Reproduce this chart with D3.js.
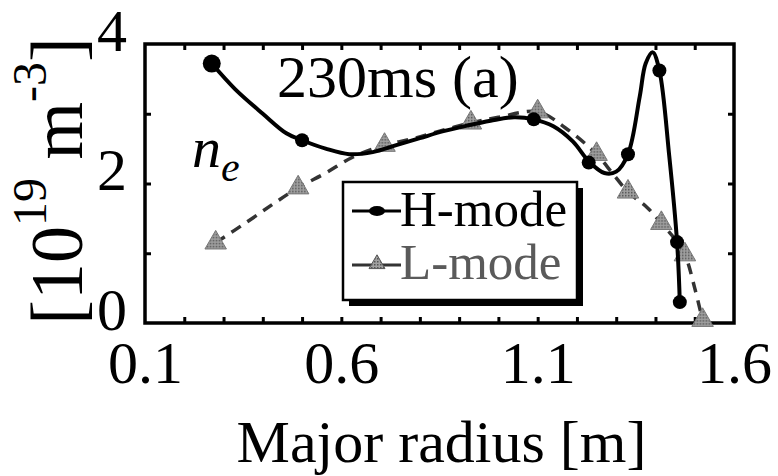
<!DOCTYPE html>
<html>
<head>
<meta charset="utf-8">
<script src="https://cdn.jsdelivr.net/npm/d3@7"></script>
<style>
  body { margin: 0; background: #fff; }
  text { font-family: 'Liberation Serif', 'Times New Roman', serif; }
</style>
</head>
<body>
<div id="chart"></div>
<script>
// H-mode profile (solid line) and its markers
const hModeX = [0.27, 0.33, 0.40, 0.46, 0.50, 0.56, 0.62, 0.68, 0.74, 0.80, 0.86, 0.92, 0.98, 1.04, 1.09, 1.14, 1.19, 1.23, 1.27, 1.30, 1.33, 1.36, 1.375, 1.393, 1.41, 1.435, 1.455, 1.462]
const hModeY = [3.72, 3.35, 3.0, 2.72, 2.62, 2.5, 2.42, 2.45, 2.55, 2.65, 2.75, 2.83, 2.9, 2.95, 2.92, 2.82, 2.6, 2.32, 2.15, 2.17, 2.42, 3.25, 3.72, 3.88, 3.62, 2.4, 1.16, 0.3]
const hMarkX = [0.27, 0.50, 1.09, 1.23, 1.33, 1.41, 1.455, 1.462]
const hMarkY = [3.72, 2.62, 2.92, 2.3, 2.42, 3.62, 1.16, 0.3]

// L-mode profile (dashed line) and its markers
const lModeX = [0.28, 0.36, 0.43, 0.49, 0.56, 0.63, 0.71, 0.78, 0.85, 0.93, 1.00, 1.10, 1.17, 1.25, 1.29, 1.33, 1.38, 1.415, 1.45, 1.475, 1.50, 1.52]
const lModeY = [1.15, 1.45, 1.72, 1.94, 2.15, 2.38, 2.55, 2.64, 2.75, 2.87, 2.95, 3.03, 2.8, 2.42, 2.15, 1.88, 1.65, 1.43, 1.2, 0.98, 0.5, 0.04]
const lMarkX = [0.28, 0.49, 0.71, 0.93, 1.10, 1.25, 1.33, 1.415, 1.475, 1.52]
const lMarkY = [1.15, 1.94, 2.55, 2.87, 3.03, 2.42, 1.88, 1.43, 0.98, 0.04]

const xTickLabels = [0.1, 0.6, 1.1, 1.6]
const yTickLabels = [0, 2, 4]

const width = 778
const height = 476
const margin = { top: 44, right: 44, bottom: 153, left: 145 }

const svg = d3
  .select('#chart')
  .append('svg')
  .attr('width', width)
  .attr('height', height)

const defs = svg.append('defs')
const pat = defs
  .append('pattern')
  .attr('id', 'hatch')
  .attr('width', 3)
  .attr('height', 3)
  .attr('patternUnits', 'userSpaceOnUse')
pat.append('rect').attr('width', 3).attr('height', 3).attr('fill', '#a0a0a0')
pat.append('rect').attr('width', 1.5).attr('height', 1.5).attr('fill', '#555')

const xScale = d3
  .scaleLinear()
  .domain([0.1, 1.6])
  .range([margin.left, width - margin.right])

const yScale = d3
  .scaleLinear()
  .domain([0, 4])
  .range([height - margin.bottom, margin.top])

const x0 = xScale.range()[0]
const x1 = xScale.range()[1]
const y0 = yScale.range()[0]
const y1 = yScale.range()[1]

// inward minor ticks on all four sides
const minorX = xScale.ticks(15).slice(1, -1)
const minorY = yScale.ticks(4).slice(1, -1)

svg.append('g')
  .attr('transform', 'translate(0,' + y0 + ')')
  .call(d3.axisBottom(xScale).tickValues(minorX).tickSize(-6).tickFormat(''))
svg.append('g')
  .attr('transform', 'translate(0,' + y1 + ')')
  .call(d3.axisTop(xScale).tickValues(minorX).tickSize(-6).tickFormat(''))
svg.append('g')
  .attr('transform', 'translate(' + x0 + ',0)')
  .call(d3.axisLeft(yScale).tickValues(minorY).tickSize(-6).tickFormat(''))
svg.append('g')
  .attr('transform', 'translate(' + x1 + ',0)')
  .call(d3.axisRight(yScale).tickValues(minorY).tickSize(-6).tickFormat(''))
svg.selectAll('.domain').remove()
svg.selectAll('.tick line').attr('stroke', '#000').attr('stroke-width', 3)

// tick labels
const xAxis = svg.append('g')
  .attr('transform', 'translate(0,' + y0 + ')')
  .call(d3.axisBottom(xScale).tickValues(xTickLabels).tickSize(0).tickPadding(17).tickFormat(d3.format('.1f')))
xAxis.select('.domain').remove()
xAxis.selectAll('text').attr('font-size', 60).attr('fill', '#000')
  .attr('font-family', "'Liberation Serif', serif")

const yAxis = svg.append('g')
  .attr('transform', 'translate(' + x0 + ',0)')
  .call(d3.axisLeft(yScale).tickValues(yTickLabels).tickSize(0).tickPadding(18).tickFormat(d3.format('d')))
yAxis.select('.domain').remove()
yAxis.selectAll('text').attr('font-size', 60).attr('fill', '#000').attr('dy', '0.1em')
  .attr('font-family', "'Liberation Serif', serif")

// frame
svg.append('rect')
  .attr('x', x0)
  .attr('y', y1)
  .attr('width', x1 - x0)
  .attr('height', y0 - y1)
  .attr('fill', 'none')
  .attr('stroke', '#000')
  .attr('stroke-width', 3.5)

// curves
const line = d3.line()
  .x(d => xScale(d[0]))
  .y(d => yScale(d[1]))
  .curve(d3.curveCatmullRom.alpha(0.5))

svg.append('path')
  .datum(lModeX.map((v, i) => [v, lModeY[i]]))
  .attr('d', line)
  .attr('fill', 'none')
  .attr('stroke', '#333')
  .attr('stroke-width', 3.5)
  .attr('stroke-dasharray', '11,8')

const triangle = d3.symbol().type(d3.symbolTriangle).size(200)

svg.selectAll('.lmark')
  .data(lMarkX.map((v, i) => [v, lMarkY[i]]))
  .enter()
  .append('path')
  .attr('class', 'lmark')
  .attr('d', triangle)
  .attr('transform', d => 'translate(' + xScale(d[0]) + ',' + yScale(d[1]) + ')')
  .attr('fill', 'url(#hatch)')
  .attr('stroke', '#777')
  .attr('stroke-width', 1)

svg.append('path')
  .datum(hModeX.map((v, i) => [v, hModeY[i]]))
  .attr('d', line)
  .attr('fill', 'none')
  .attr('stroke', '#000')
  .attr('stroke-width', 4)

svg.selectAll('.hmark')
  .data(hMarkX.map((v, i) => [v, hMarkY[i]]))
  .enter()
  .append('circle')
  .attr('class', 'hmark')
  .attr('cx', d => xScale(d[0]))
  .attr('cy', d => yScale(d[1]))
  .attr('r', (d, i) => i === 0 ? 9 : 7)
  .attr('fill', '#000')

// annotations
svg.append('text')
  .attr('x', 277)
  .attr('y', 97)
  .attr('font-size', 60)
  .text('230ms (a)')

const ne = svg.append('text')
  .attr('x', 192)
  .attr('y', 167)
  .attr('font-size', 58)
  .attr('font-style', 'italic')
  .attr('font-family', "'DejaVu Serif', serif")
ne.append('tspan').text('n')
ne.append('tspan').attr('font-size', 42).attr('dy', 14).text('e')

// legend
const lg = svg.append('g')
lg.append('rect')
  .attr('x', 349).attr('y', 188).attr('width', 234).attr('height', 118)
  .attr('fill', '#000')
lg.append('rect')
  .attr('x', 343).attr('y', 182).attr('width', 234).attr('height', 118)
  .attr('fill', '#fff').attr('stroke', '#000').attr('stroke-width', 2.5)

lg.append('line')
  .attr('x1', 352).attr('x2', 401).attr('y1', 211).attr('y2', 211)
  .attr('stroke', '#000').attr('stroke-width', 3)
lg.append('ellipse')
  .attr('cx', 377).attr('cy', 211).attr('rx', 8).attr('ry', 5)
  .attr('fill', '#000')
lg.append('text')
  .attr('x', 400).attr('y', 226)
  .attr('font-size', 51)
  .text('H-mode')

lg.append('line')
  .attr('x1', 352).attr('x2', 401).attr('y1', 265).attr('y2', 265)
  .attr('stroke', '#333').attr('stroke-width', 3)
lg.append('path')
  .attr('d', d3.symbol().type(d3.symbolTriangle).size(110))
  .attr('transform', 'translate(377,264)')
  .attr('fill', 'url(#hatch)')
  .attr('stroke', '#555')
lg.append('text')
  .attr('x', 400).attr('y', 279)
  .attr('font-size', 51)
  .attr('fill', '#5a5a5a')
  .text('L-mode')

// axis titles
svg.append('text')
  .attr('x', (x0 + x1) / 2 + 2)
  .attr('y', 462)
  .attr('text-anchor', 'middle')
  .attr('font-size', 60)
  .text('Major radius [m]')

const yTitle = svg.append('text')
  .attr('transform', 'translate(82,181) rotate(-90)')
  .attr('text-anchor', 'middle')
  .attr('font-size', 74)
yTitle.append('tspan').text('[10')
yTitle.append('tspan').attr('font-size', 48).attr('dy', -36).text('19')
yTitle.append('tspan').attr('dy', 36).text(' m')
yTitle.append('tspan').attr('font-size', 48).attr('dy', -36).text('-3')
yTitle.append('tspan').attr('dy', 36).text(']')
</script>
</body>
</html>
